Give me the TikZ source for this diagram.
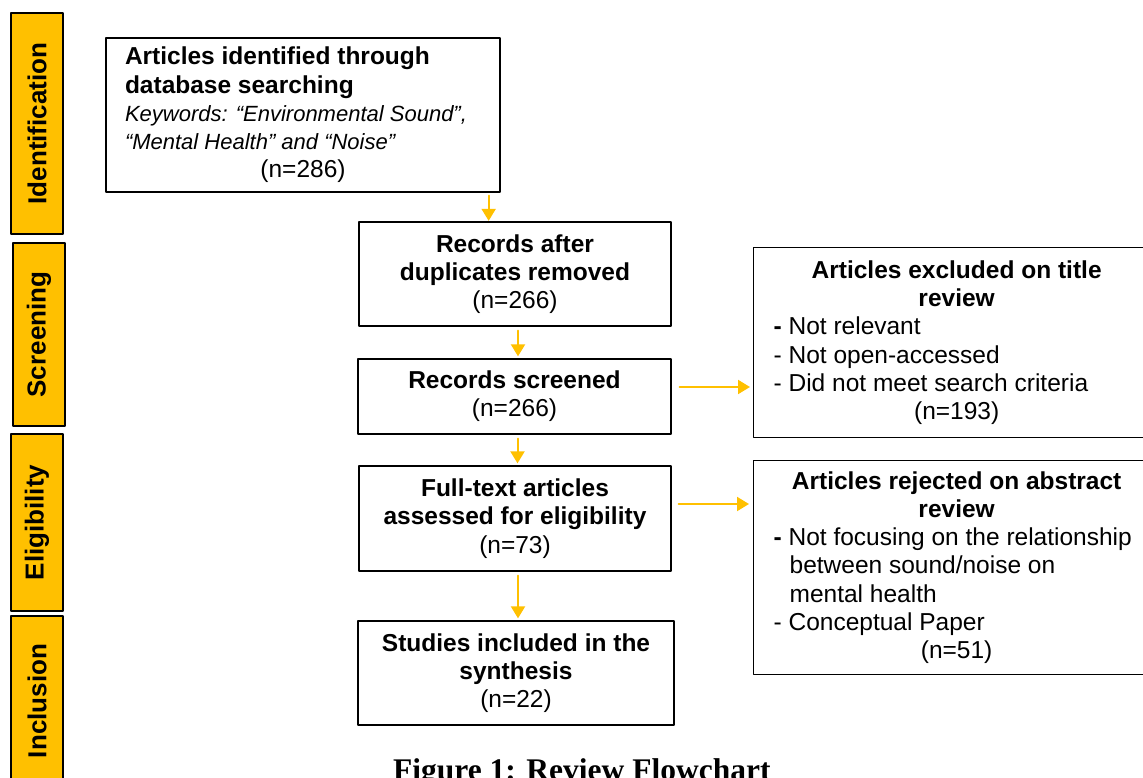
\documentclass[tikz,border=0pt]{standalone}
\usepackage{fontspec}
\setmainfont{Liberation Sans}
\newfontfamily\capfont{Liberation Serif}
\usetikzlibrary{arrows.meta}
\definecolor{ffcqqq}{rgb}{1,0.7529,0}
\newcommand{\ctrline}[1]{\makebox[\hsize]{#1}}
\tikzset{
  stage/.style={draw=black,line width=2pt,fill=ffcqqq,rotate=90,inner sep=0pt,minimum height=52pt,font=\bfseries\fontsize{26}{30}\selectfont},
  box/.style={draw=black,line width=1.3pt,fill=white,inner sep=0pt,font=\fontsize{24.5}{28.2}\selectfont},
  flow/.style={->,color=ffcqqq,line width=2pt,shorten <=4pt,shorten >=2pt}
}
\begin{document}
\begin{tikzpicture}[line cap=round,line join=round,>={Triangle[width=14pt,length=12pt]},x=1pt,y=-1pt]
\clip (0,0) rectangle (1143,778);
\useasboundingbox (0,0) rectangle (1143,778);
\node[stage,minimum width=221pt] (ident) at (37,123.5) {Identification};
\node[stage,minimum width=183pt] (scr) at (39,334.5) {Screening};
\node[stage,minimum width=177pt] (elig) at (37,522.5) {Eligibility};
\node[stage,minimum width=170pt] (inc) at (37,701) {Inclusion};
\node[box,text width=356pt,inner xsep=19pt,minimum height=154pt,align=flush left] (srch) at (303,115) {\noindent\textbf{Articles identified through}\\
\textbf{database searching}\\
{\itshape\fontsize{22}{25.3}\selectfont Keywords: “Environmental Sound”,}\\
{\itshape\fontsize{22}{25.3}\selectfont “Mental Health” and “Noise”}\\
\ctrline{(n=286)}};
\node[box,minimum width=312pt,minimum height=104pt,align=center] (dupl) at (515,274) {\textbf{Records after}\\ \textbf{duplicates removed}\\ (n=266)};
\node[box,minimum width=313pt,minimum height=75pt,align=center] (scrn) at (514.5,396.5) {\textbf{Records screened}\\ (n=266)};
\node[box,minimum width=312pt,minimum height=105pt,align=center] (full) at (515,518.5) {\textbf{Full-text articles}\\ \textbf{assessed for eligibility}\\ (n=73)};
\node[box,minimum width=316pt,minimum height=104pt,align=center] (incl) at (516,673) {\textbf{Studies included in the}\\ \textbf{synthesis}\\ (n=22)};
\node[box,anchor=north west,text width=366pt,inner xsep=20pt,minimum height=190pt,align=flush left] (excl) at (753,247) {\noindent\ctrline{\textbf{Articles excluded on title}}\\
\ctrline{\textbf{review}}\\
\textbf{-} Not relevant\\
- Not open-accessed\\
- Did not meet search criteria\\
\ctrline{(n=193)}};
\node[box,anchor=north west,text width=366pt,inner xsep=20pt,minimum height=214pt,align=flush left] (rjct) at (753,460) {\noindent\ctrline{\textbf{Articles rejected on abstract}}\\
\ctrline{\textbf{review}}\\
\textbf{-} Not focusing on the relationship\\
\hspace*{16pt}between sound/noise on\\
\hspace*{16pt}mental health\\
- Conceptual Paper\\
\ctrline{(n=51)}};
\draw[flow,shorten <=3pt,shorten >=0.5pt] ([xshift=-12pt]srch.south east) -- ([xshift=-12pt]srch.south east |- dupl.north);
\draw[flow] ([xshift=3pt]dupl.south) -- ([xshift=3pt]dupl.south |- scrn.north);
\draw[flow] ([xshift=3pt]scrn.south) -- ([xshift=3pt]scrn.south |- full.north);
\draw[flow] ([xshift=3pt]full.south) -- ([xshift=3pt]full.south |- incl.north);
\draw[flow,shorten <=8pt,shorten >=3pt] ([yshift=9.5pt]scrn.east) -- ([yshift=9.5pt]scrn.east -| excl.west);
\draw[flow,shorten <=7pt,shorten >=4pt] ([yshift=14.5pt]full.east) -- ([yshift=14.5pt]full.east -| rjct.west);
\node[anchor=base west,inner sep=0pt,font=\capfont\bfseries\fontsize{31.5}{36}\selectfont] (capt) at (393,780) {Figure 1: Review Flowchart};
\end{tikzpicture}
\end{document}
